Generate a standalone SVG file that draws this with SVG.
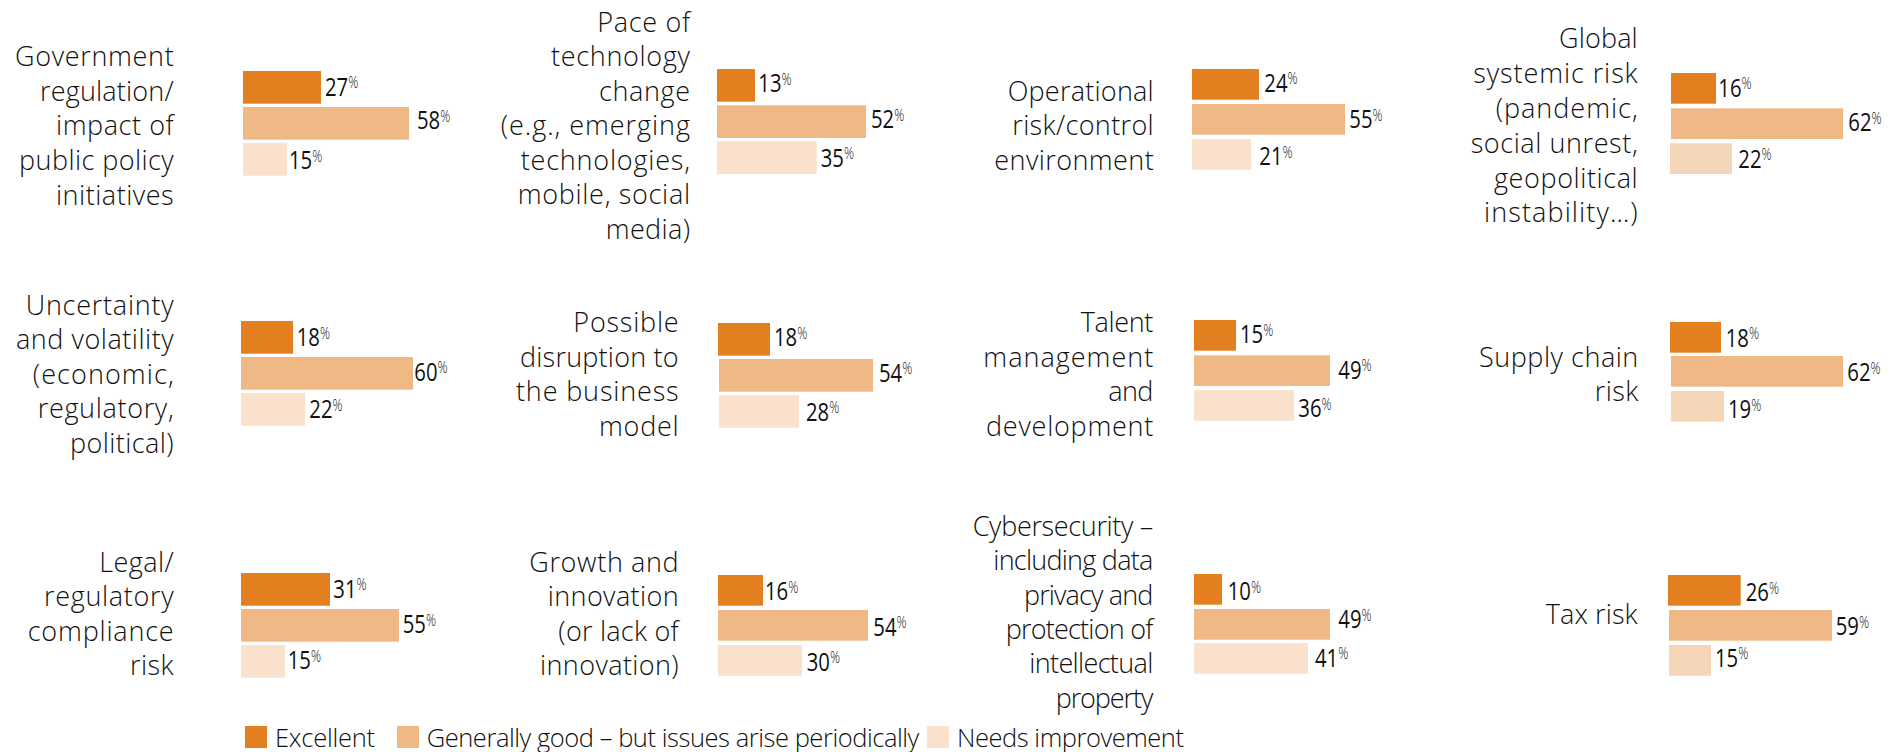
<svg xmlns="http://www.w3.org/2000/svg" width="1904" height="752" viewBox="0 0 1904 752">
<style>
.lbl{font-family:"Open Sans","Liberation Sans",sans-serif;font-weight:350;font-size:27px;fill:#111111;text-anchor:end}
.leg{font-family:"Open Sans","Liberation Sans",sans-serif;font-weight:350;font-size:25.5px;fill:#111111}
.num{font-family:"Open Sans","Liberation Sans",sans-serif;font-weight:400;font-size:26px;fill:#111111}
.pct{font-size:16px;font-weight:300}
.b1{fill:#E37F1F}.b2{fill:#F0B884}.b3{fill:#F9E1CB}.b3b{fill:#F6D6B8}
</style>
<rect width="1904" height="752" fill="#ffffff"/>

<g id="government">
<text class="lbl" x="173.7" y="65.7" textLength="158.7" lengthAdjust="spacing">Government</text>
<text class="lbl" x="173.7" y="100.5" textLength="133.7" lengthAdjust="spacing">regulation/</text>
<text class="lbl" x="173.7" y="135.3" textLength="117.7" lengthAdjust="spacing">impact of</text>
<text class="lbl" x="173.7" y="170.1" textLength="154.7" lengthAdjust="spacing">public policy</text>
<text class="lbl" x="173.7" y="204.9" textLength="117.7" lengthAdjust="spacing">initiatives</text>
<rect class="b1" x="243" y="71" width="78" height="32.7"/>
<rect class="b2" x="243" y="107" width="166" height="32.7"/>
<rect class="b3" x="243" y="143" width="44" height="32.7"/>
<text class="num" transform="translate(325 95.7) scale(0.78 1)">27<tspan class="pct" dy="-7.5">%</tspan></text>
<text class="num" transform="translate(417 129) scale(0.78 1)">58<tspan class="pct" dy="-7.5">%</tspan></text>
<text class="num" transform="translate(289 169) scale(0.78 1)">15<tspan class="pct" dy="-7.5">%</tspan></text>
</g>

<g id="pace">
<text class="lbl" x="690" y="31.5" textLength="92.7" lengthAdjust="spacing">Pace of</text>
<text class="lbl" x="690" y="66" textLength="139" lengthAdjust="spacing">technology</text>
<text class="lbl" x="690" y="100.5" textLength="91" lengthAdjust="spacing">change</text>
<text class="lbl" x="690" y="135" textLength="189.3" lengthAdjust="spacing">(e.g., emerging</text>
<text class="lbl" x="690" y="169.5" textLength="169.3" lengthAdjust="spacing">technologies,</text>
<text class="lbl" x="690" y="204" textLength="172.3" lengthAdjust="spacing">mobile, social</text>
<text class="lbl" x="690" y="238.5" textLength="84.3" lengthAdjust="spacing">media)</text>
<rect class="b1" x="717" y="69" width="38" height="32.7"/>
<rect class="b2" x="717" y="105.3" width="149" height="32.7"/>
<rect class="b3" x="717" y="141.3" width="99.7" height="32.7"/>
<text class="num" transform="translate(758.3 92.3) scale(0.78 1)">13<tspan class="pct" dy="-7.5">%</tspan></text>
<text class="num" transform="translate(871 128.3) scale(0.78 1)">52<tspan class="pct" dy="-7.5">%</tspan></text>
<text class="num" transform="translate(820.7 166.7) scale(0.78 1)">35<tspan class="pct" dy="-7.5">%</tspan></text>
</g>

<g id="operational">
<text class="lbl" x="1153.7" y="100.5" textLength="146" lengthAdjust="spacing">Operational</text>
<text class="lbl" x="1153.7" y="135.3" textLength="141.4" lengthAdjust="spacing">risk/control</text>
<text class="lbl" x="1153.7" y="170.1" textLength="159.4" lengthAdjust="spacing">environment</text>
<rect class="b1" x="1192" y="69" width="67" height="30.7"/>
<rect class="b2" x="1192" y="104" width="153" height="30.7"/>
<rect class="b3" x="1192" y="139" width="59" height="30.7"/>
<text class="num" transform="translate(1264.3 91.7) scale(0.78 1)">24<tspan class="pct" dy="-7.5">%</tspan></text>
<text class="num" transform="translate(1349.3 128.3) scale(0.78 1)">55<tspan class="pct" dy="-7.5">%</tspan></text>
<text class="num" transform="translate(1259.3 165) scale(0.78 1)">21<tspan class="pct" dy="-7.5">%</tspan></text>
</g>

<g id="global">
<text class="lbl" x="1637.7" y="48.3" textLength="78.7" lengthAdjust="spacing">Global</text>
<text class="lbl" x="1637.7" y="83.1" textLength="164.4" lengthAdjust="spacing">systemic risk</text>
<text class="lbl" x="1637.7" y="117.9" textLength="142" lengthAdjust="spacing">(pandemic,</text>
<text class="lbl" x="1637.7" y="152.7" textLength="167" lengthAdjust="spacing">social unrest,</text>
<text class="lbl" x="1637.7" y="187.5" textLength="143.7" lengthAdjust="spacing">geopolitical</text>
<text class="lbl" x="1637.7" y="222.3" textLength="153.7" lengthAdjust="spacing">instability…)</text>
<rect class="b1" x="1671" y="73" width="45" height="30.7"/>
<rect class="b2" x="1671" y="108.3" width="172" height="30.7"/>
<rect class="b3b" x="1670" y="143.3" width="62" height="30.7"/>
<text class="num" transform="translate(1718.3 96.7) scale(0.78 1)">16<tspan class="pct" dy="-7.5">%</tspan></text>
<text class="num" transform="translate(1848.3 131) scale(0.78 1)">62<tspan class="pct" dy="-7.5">%</tspan></text>
<text class="num" transform="translate(1738.3 167.7) scale(0.78 1)">22<tspan class="pct" dy="-7.5">%</tspan></text>
</g>

<g id="uncertainty">
<text class="lbl" x="173.7" y="315" textLength="148" lengthAdjust="spacing">Uncertainty</text>
<text class="lbl" x="173.7" y="349.4" textLength="157.7" lengthAdjust="spacing">and volatility</text>
<text class="lbl" x="173.7" y="383.8" textLength="141" lengthAdjust="spacing">(economic,</text>
<text class="lbl" x="173.7" y="418.2" textLength="136" lengthAdjust="spacing">regulatory,</text>
<text class="lbl" x="173.7" y="452.6" textLength="103.7" lengthAdjust="spacing">political)</text>
<rect class="b1" x="241" y="321" width="52" height="32.7"/>
<rect class="b2" x="241" y="357" width="172" height="32.7"/>
<rect class="b3" x="241" y="393" width="64" height="32.7"/>
<text class="num" transform="translate(296.7 346) scale(0.78 1)">18<tspan class="pct" dy="-7.5">%</tspan></text>
<text class="num" transform="translate(414.3 380.7) scale(0.78 1)">60<tspan class="pct" dy="-7.5">%</tspan></text>
<text class="num" transform="translate(309.3 418.3) scale(0.78 1)">22<tspan class="pct" dy="-7.5">%</tspan></text>
</g>

<g id="disruption">
<text class="lbl" x="678.7" y="332.3" textLength="105.4" lengthAdjust="spacing">Possible</text>
<text class="lbl" x="678.7" y="366.7" textLength="158.7" lengthAdjust="spacing">disruption to</text>
<text class="lbl" x="678.7" y="401.1" textLength="162.7" lengthAdjust="spacing">the business</text>
<text class="lbl" x="678.7" y="435.5" textLength="79.7" lengthAdjust="spacing">model</text>
<rect class="b1" x="718" y="323" width="52" height="32.7"/>
<rect class="b2" x="719" y="359" width="154" height="32.7"/>
<rect class="b3" x="719" y="395" width="80" height="32.7"/>
<text class="num" transform="translate(774 346) scale(0.78 1)">18<tspan class="pct" dy="-7.5">%</tspan></text>
<text class="num" transform="translate(879 381.7) scale(0.78 1)">54<tspan class="pct" dy="-7.5">%</tspan></text>
<text class="num" transform="translate(806 420.7) scale(0.78 1)">28<tspan class="pct" dy="-7.5">%</tspan></text>
</g>

<g id="talent">
<text class="lbl" x="1153.3" y="332.3" textLength="72.6" lengthAdjust="spacing">Talent</text>
<text class="lbl" x="1153.3" y="366.7" textLength="170" lengthAdjust="spacing">management</text>
<text class="lbl" x="1153.3" y="401.1" textLength="45" lengthAdjust="spacing">and</text>
<text class="lbl" x="1153.3" y="435.5" textLength="167.3" lengthAdjust="spacing">development</text>
<rect class="b1" x="1194" y="320" width="42" height="30.7"/>
<rect class="b2" x="1194" y="355.3" width="136" height="30.7"/>
<rect class="b3" x="1194" y="390" width="100" height="30.7"/>
<text class="num" transform="translate(1240 343.3) scale(0.78 1)">15<tspan class="pct" dy="-7.5">%</tspan></text>
<text class="num" transform="translate(1338.3 378.7) scale(0.78 1)">49<tspan class="pct" dy="-7.5">%</tspan></text>
<text class="num" transform="translate(1298.3 417.3) scale(0.78 1)">36<tspan class="pct" dy="-7.5">%</tspan></text>
</g>

<g id="supply">
<text class="lbl" x="1638.3" y="366.7" textLength="159.3" lengthAdjust="spacing">Supply chain</text>
<text class="lbl" x="1638.3" y="400.5" textLength="43.6" lengthAdjust="spacing">risk</text>
<rect class="b1" x="1670" y="322" width="51" height="30.7"/>
<rect class="b2" x="1671" y="356" width="172" height="30.7"/>
<rect class="b3b" x="1671" y="391" width="53" height="30.7"/>
<text class="num" transform="translate(1725.7 346.7) scale(0.78 1)">18<tspan class="pct" dy="-7.5">%</tspan></text>
<text class="num" transform="translate(1847.3 381) scale(0.78 1)">62<tspan class="pct" dy="-7.5">%</tspan></text>
<text class="num" transform="translate(1728 418.3) scale(0.78 1)">19<tspan class="pct" dy="-7.5">%</tspan></text>
</g>

<g id="legal">
<text class="lbl" x="173.7" y="571.5" textLength="74.4" lengthAdjust="spacing">Legal/</text>
<text class="lbl" x="173.7" y="606" textLength="129.7" lengthAdjust="spacing">regulatory</text>
<text class="lbl" x="173.7" y="640.5" textLength="146" lengthAdjust="spacing">compliance</text>
<text class="lbl" x="173.7" y="675" textLength="43.7" lengthAdjust="spacing">risk</text>
<rect class="b1" x="241" y="573" width="89" height="32.7"/>
<rect class="b2" x="241" y="609" width="158" height="32.7"/>
<rect class="b3" x="241" y="645" width="44" height="32.7"/>
<text class="num" transform="translate(333.3 597.7) scale(0.78 1)">31<tspan class="pct" dy="-7.5">%</tspan></text>
<text class="num" transform="translate(402.7 633.3) scale(0.78 1)">55<tspan class="pct" dy="-7.5">%</tspan></text>
<text class="num" transform="translate(287.7 669.3) scale(0.78 1)">15<tspan class="pct" dy="-7.5">%</tspan></text>
</g>

<g id="growth">
<text class="lbl" x="678.7" y="571.7" textLength="149.4" lengthAdjust="spacing">Growth and</text>
<text class="lbl" x="678.7" y="606" textLength="131" lengthAdjust="spacing">innovation</text>
<text class="lbl" x="678.7" y="640.5" textLength="120.4" lengthAdjust="spacing">(or lack of</text>
<text class="lbl" x="678.7" y="675" textLength="138.7" lengthAdjust="spacing">innovation)</text>
<rect class="b1" x="718" y="575" width="45" height="30.7"/>
<rect class="b2" x="718" y="610" width="150" height="30.7"/>
<rect class="b3" x="718" y="645" width="84" height="30.7"/>
<text class="num" transform="translate(765 600) scale(0.78 1)">16<tspan class="pct" dy="-7.5">%</tspan></text>
<text class="num" transform="translate(873.3 635.7) scale(0.78 1)">54<tspan class="pct" dy="-7.5">%</tspan></text>
<text class="num" transform="translate(806.7 670.7) scale(0.78 1)">30<tspan class="pct" dy="-7.5">%</tspan></text>
</g>

<g id="cybersecurity">
<text class="lbl" x="1153.3" y="536" textLength="180.6" lengthAdjust="spacing">Cybersecurity –</text>
<text class="lbl" x="1153.3" y="570.3" textLength="160" lengthAdjust="spacing">including data</text>
<text class="lbl" x="1153.3" y="604.6" textLength="129.3" lengthAdjust="spacing">privacy and</text>
<text class="lbl" x="1153.3" y="638.9" textLength="147.6" lengthAdjust="spacing">protection of</text>
<text class="lbl" x="1153.3" y="673.2" textLength="124" lengthAdjust="spacing">intellectual</text>
<text class="lbl" x="1153.3" y="707.5" textLength="97.6" lengthAdjust="spacing">property</text>
<rect class="b1" x="1194" y="574" width="28" height="30.7"/>
<rect class="b2" x="1194" y="609" width="136" height="30.7"/>
<rect class="b3" x="1194" y="643" width="114" height="30.7"/>
<text class="num" transform="translate(1227.7 600) scale(0.78 1)">10<tspan class="pct" dy="-7.5">%</tspan></text>
<text class="num" transform="translate(1338.3 628.3) scale(0.78 1)">49<tspan class="pct" dy="-7.5">%</tspan></text>
<text class="num" transform="translate(1315 666.7) scale(0.78 1)">41<tspan class="pct" dy="-7.5">%</tspan></text>
</g>

<g id="tax">
<text class="lbl" x="1637.7" y="624" textLength="92" lengthAdjust="spacing">Tax risk</text>
<rect class="b1" x="1668" y="575" width="72.7" height="30.7"/>
<rect class="b2" x="1669" y="610" width="163" height="30.7"/>
<rect class="b3b" x="1669" y="645" width="42" height="30.7"/>
<text class="num" transform="translate(1745.7 601) scale(0.78 1)">26<tspan class="pct" dy="-7.5">%</tspan></text>
<text class="num" transform="translate(1835.7 635) scale(0.78 1)">59<tspan class="pct" dy="-7.5">%</tspan></text>
<text class="num" transform="translate(1715 666.7) scale(0.78 1)">15<tspan class="pct" dy="-7.5">%</tspan></text>
</g>

<g id="legend">
<rect class="b1" x="245" y="726" width="22" height="22"/>
<text class="leg" x="275" y="747" textLength="100" lengthAdjust="spacing">Excellent</text>
<rect class="b2" x="397" y="726" width="22" height="22"/>
<text class="leg" x="426.7" y="747" textLength="492.6" lengthAdjust="spacing">Generally good – but issues arise periodically</text>
<rect class="b3" x="927" y="726" width="22" height="22"/>
<text class="leg" x="957" y="747" textLength="227" lengthAdjust="spacing">Needs improvement</text>
</g>
</svg>
